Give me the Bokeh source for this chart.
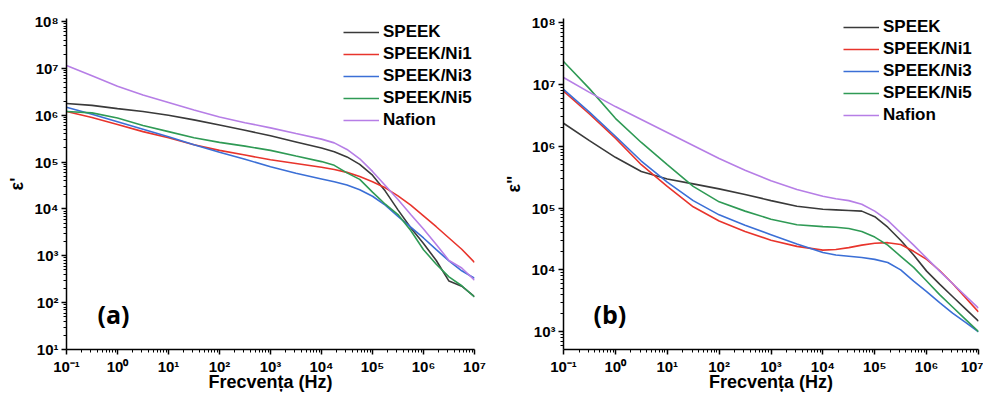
import numpy as np
from bokeh.plotting import figure
from bokeh.layouts import row
from bokeh.models import (FixedTicker, CustomJSTickFormatter, Legend, LegendItem,
                          Label, Range1d)
from bokeh.embed import file_html
from bokeh.resources import INLINE

# ---------------- data ----------------
freq_hz = [0.1, 0.316, 1, 3.16, 10, 31.6, 100, 316, 1e3, 3.16e3, 1e4, 1.78e4,
           3.16e4, 5.62e4, 1e5, 1.78e5, 3.16e5, 5.62e5, 1e6, 1.78e6, 3.16e6,
           5.62e6, 1e7]

series_names = ["SPEEK", "SPEEK/Ni1", "SPEEK/Ni3", "SPEEK/Ni5", "Nafion"]

# panel (a): log10 of eps'
a_speek = [6.25, 6.21, 6.14, 6.08, 6.00, 5.90, 5.79, 5.68, 5.56, 5.43, 5.30, 5.22,
           5.11, 4.95, 4.72, 4.38, 3.98, 3.60, 3.26, 2.90, 2.46, 2.35, 2.13]
a_ni1 = [6.08, 5.95, 5.80, 5.65, 5.52, 5.37, 5.25, 5.15, 5.05, 4.97, 4.89, 4.84,
         4.78, 4.69, 4.58, 4.45, 4.28, 4.08, 3.85, 3.62, 3.38, 3.14, 2.86]
a_ni3 = [6.17, 6.02, 5.86, 5.70, 5.54, 5.37, 5.21, 5.06, 4.90, 4.76, 4.64, 4.58,
         4.51, 4.41, 4.27, 4.08, 3.84, 3.61, 3.38, 3.13, 2.89, 2.68, 2.52]
a_ni5 = [6.08, 6.05, 5.94, 5.78, 5.65, 5.52, 5.42, 5.34, 5.25, 5.13, 5.01, 4.93,
         4.77, 4.63, 4.36, 4.10, 3.88, 3.54, 3.13, 2.82, 2.55, 2.36, 2.12]
a_nafion = [7.06, 6.84, 6.62, 6.43, 6.27, 6.11, 5.96, 5.84, 5.73, 5.61, 5.49, 5.41,
            5.27, 5.07, 4.80, 4.50, 4.20, 3.88, 3.57, 3.24, 2.90, 2.74, 2.48]

# panel (b): log10 of eps''
b_speek = [6.37, 6.09, 5.82, 5.59, 5.47, 5.39, 5.31, 5.22, 5.12, 5.03, 4.98, 4.97,
           4.96, 4.95, 4.86, 4.69, 4.48, 4.24, 3.98, 3.77, 3.57, 3.37, 3.17]
b_ni1 = [6.89, 6.52, 6.13, 5.70, 5.35, 5.02, 4.79, 4.62, 4.48, 4.38, 4.32, 4.33,
         4.36, 4.40, 4.43, 4.44, 4.41, 4.30, 4.17, 3.99, 3.78, 3.55, 3.32]
b_ni3 = [6.92, 6.55, 6.16, 5.76, 5.42, 5.12, 4.89, 4.72, 4.57, 4.42, 4.28, 4.24,
         4.22, 4.20, 4.17, 4.12, 4.00, 3.82, 3.65, 3.47, 3.30, 3.15, 3.00]
b_ni5 = [7.37, 6.93, 6.45, 6.06, 5.70, 5.35, 5.10, 4.95, 4.82, 4.73, 4.70, 4.69,
         4.67, 4.62, 4.53, 4.40, 4.22, 4.04, 3.82, 3.60, 3.40, 3.20, 3.00]
b_nafion = [7.11, 6.87, 6.64, 6.43, 6.22, 6.01, 5.80, 5.61, 5.44, 5.30, 5.19, 5.15,
            5.12, 5.06, 4.95, 4.80, 4.60, 4.40, 4.19, 3.98, 3.78, 3.58, 3.38]

x_decades = [-1, 0, 1, 2, 3, 4, 5, 6, 7]
a_y_decades = [1, 2, 3, 4, 5, 6, 7, 8]
b_y_decades = [2, 3, 4, 5, 6, 7, 8]

colors = ["#3a3a3a", "#e8342c", "#3b6fd6", "#2f9a55", "#b67ee6"]

FONT = "Liberation Sans"

sup_js = """
const e = Math.round(Math.log10(tick));
const m = {"-":"\u207b","0":"\u2070","1":"\u00b9","2":"\u00b2","3":"\u00b3",
           "4":"\u2074","5":"\u2075","6":"\u2076","7":"\u2077","8":"\u2078","9":"\u2079"};
return "10" + String(e).split("").map(c => m[c]).join("");
"""


def log_ticker(decades):
    major = [10.0 ** d for d in decades]
    minor = [m * 10.0 ** d for d in decades for m in range(2, 10)]
    return FixedTicker(ticks=major, minor_ticks=minor)


def make_panel(width, border_left, border_right, border_top, y_lo, y_hi, ydec,
               ylabel, series, legend_xy, tag, tag_xy):
    p = figure(width=width, height=394, x_axis_type="log", y_axis_type="log",
               x_range=Range1d(0.1, 1e7), y_range=Range1d(y_lo, y_hi),
               output_backend="svg", toolbar_location=None,
               min_border_left=border_left, min_border_right=border_right,
               min_border_top=border_top, min_border_bottom=45)
    p.outline_line_color = None
    p.xgrid.visible = False
    p.ygrid.visible = False
    p.background_fill_color = "white"
    p.border_fill_color = "white"

    items = []
    for name, vals, col in zip(series_names, series, colors):
        r = p.line(freq_hz, np.power(10.0, vals), line_color=col, line_width=1.6)
        items.append(LegendItem(label=name, renderers=[r]))

    p.xaxis.ticker = log_ticker(x_decades)
    p.yaxis.ticker = log_ticker(ydec)
    for ax in p.axis:
        ax.formatter = CustomJSTickFormatter(code=sup_js)
        ax.axis_line_color = "black"
        ax.axis_line_width = 1.5
        ax.major_tick_line_color = "black"
        ax.major_tick_line_width = 1.5
        ax.minor_tick_line_color = "black"
        ax.minor_tick_line_width = 1
        ax.major_tick_out = 5
        ax.major_tick_in = 0
        ax.minor_tick_out = 3
        ax.minor_tick_in = 0
        ax.major_label_standoff = 3
        ax.major_label_text_font = FONT
        ax.major_label_text_font_style = "bold"
        ax.major_label_text_font_size = "15px"
        ax.major_label_text_color = "black"
        ax.axis_label_text_font = FONT
        ax.axis_label_text_font_style = "bold"
        ax.axis_label_text_font_size = "18px"
        ax.axis_label_text_color = "black"
    p.xaxis.axis_label_standoff = -6
    p.yaxis.axis_label_standoff = 4
    p.xaxis.axis_label = "Frecvența (Hz)"
    p.yaxis.axis_label = ylabel

    legend = Legend(items=items, location=legend_xy, orientation="vertical",
                    background_fill_alpha=0, border_line_color=None,
                    glyph_width=36, glyph_height=20, label_height=20, spacing=2,
                    padding=0, margin=0, label_standoff=4,
                    label_text_font=FONT, label_text_font_style="bold",
                    label_text_font_size="17px", label_text_color="black")
    p.add_layout(legend)

    p.add_layout(Label(x=tag_xy[0], y=tag_xy[1], x_units="screen", y_units="screen",
                       text=tag, text_font="Open Sans", text_font_style="bold",
                       text_font_size="25px", text_color="black",
                       text_baseline="middle"))
    return p


pa = make_panel(490, 66, 16, 18, 10, 10 ** 8.064, a_y_decades, "ε'",
                [a_speek, a_ni1, a_ni3, a_ni5, a_nafion],
                (277, 219), "(a)", (31, 36))
pb = make_panel(493, 73, 5, 13, 10 ** 2.713, 10 ** 8.064, b_y_decades, "ε\"",
                [b_speek, b_ni1, b_ni3, b_ni5, b_nafion],
                (280, 224), "(b)", (30, 36))

layout = row(pa, pb, spacing=0)
open("out.html", "w").write(file_html(layout, INLINE))
